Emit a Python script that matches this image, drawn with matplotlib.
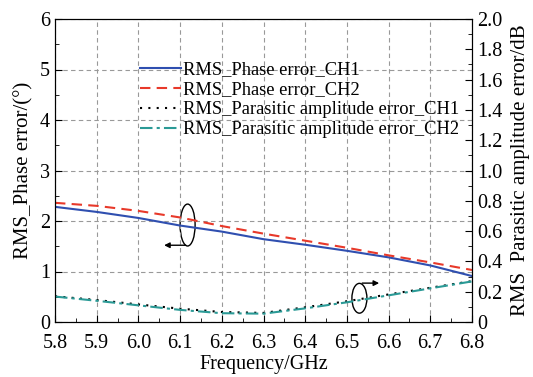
import numpy as np
import matplotlib
matplotlib.use('Agg')
import matplotlib.pyplot as plt
from matplotlib.patches import Ellipse
from matplotlib.ticker import MultipleLocator

plt.rcParams['font.family'] = ['Liberation Serif', 'DejaVu Serif']

freq = [5.8, 5.9, 6.0, 6.1, 6.2, 6.3, 6.4, 6.5, 6.6, 6.7, 6.8]
phase_ch1 = [2.28, 2.18, 2.06, 1.91, 1.79, 1.64, 1.53, 1.41, 1.28, 1.12, 0.91]
phase_ch2 = [2.36, 2.30, 2.20, 2.07, 1.90, 1.75, 1.61, 1.47, 1.32, 1.18, 1.03]
amp_ch1 = [0.170, 0.145, 0.116, 0.088, 0.066, 0.060, 0.097, 0.137, 0.182, 0.226, 0.270]
amp_ch2 = [0.168, 0.140, 0.110, 0.080, 0.058, 0.055, 0.090, 0.130, 0.176, 0.222, 0.268]

fig = plt.figure(figsize=(5.33, 3.77), dpi=100)
ax = fig.add_axes([55/533, 1 - 322/377, 417/533, 303/377])
ax2 = ax.twinx()

l1, = ax.plot(freq, phase_ch1, color='#2f4fb0', lw=1.5, label='RMS_Phase error_CH1')
l2, = ax.plot(freq, phase_ch2, color='#e8392a', lw=1.5, ls=(0, (5, 3)), label='RMS_Phase error_CH2')
l3, = ax2.plot(freq, amp_ch1, color='black', lw=1.5, ls=(0, (1, 3)), label='RMS_Parasitic amplitude error_CH1')
l4, = ax2.plot(freq, amp_ch2, color='#2a9a96', lw=1.5, ls=(0, (6, 2, 1.5, 2)), label='RMS_Parasitic amplitude error_CH2')

ax.set_xlim(5.8, 6.8)
ax.set_ylim(0, 6)
ax2.set_ylim(0, 2.0)
ax.xaxis.set_minor_locator(MultipleLocator(0.05))
ax.yaxis.set_minor_locator(MultipleLocator(0.5))
ax2.yaxis.set_minor_locator(MultipleLocator(0.1))
ax.set_xticks(freq)
ax.set_xticklabels(['%.1f' % f for f in freq])
ax2.set_yticks(np.arange(0, 2.01, 0.2))
ax2.set_yticklabels(['0'] + ['%.1f' % v for v in np.arange(0.2, 2.01, 0.2)])
ax.set_yticks(range(7))

ax.grid(True, which='major', color='#999999', ls=(0, (4, 3)), lw=0.8)
ax.tick_params(which='both', direction='in', labelsize=14.5, top=False)
ax.tick_params(which='major', length=5)
ax.tick_params(which='minor', length=3)
ax2.tick_params(which='both', direction='in', labelsize=14.5)
ax2.tick_params(which='major', length=5)
ax2.tick_params(which='minor', length=3)
ax.tick_params(axis='x', pad=9)

ax.set_xlabel('Frequency/GHz', fontsize=14.5, labelpad=1)
ax.set_ylabel('RMS_Phase error/(°)', fontsize=15, labelpad=5)
ax2.set_ylabel('RMS  Parasitic amplitude error/dB', fontsize=15, labelpad=6)

ax.legend(handles=[l1, l2, l3, l4], loc='upper left', bbox_to_anchor=(0.187, 0.885),
          frameon=False, fontsize=13.3, handlelength=2.2, handletextpad=0.1,
          labelspacing=0.16, borderaxespad=0)

# annotation ellipses and arrows
ax.add_patch(Ellipse((6.118, 1.92), 0.036, 0.83, fill=False, ec='black', lw=1))
ax.annotate('', xy=(6.055, 1.52), xytext=(6.12, 1.52),
            arrowprops=dict(arrowstyle='-|>', color='black', lw=1, mutation_scale=8))
ax.add_patch(Ellipse((6.530, 0.47), 0.036, 0.59, fill=False, ec='black', lw=1))
ax.annotate('', xy=(6.584, 0.77), xytext=(6.53, 0.77),
            arrowprops=dict(arrowstyle='-|>', color='black', lw=1, mutation_scale=8))

fig.savefig('out.png', dpi=100)
